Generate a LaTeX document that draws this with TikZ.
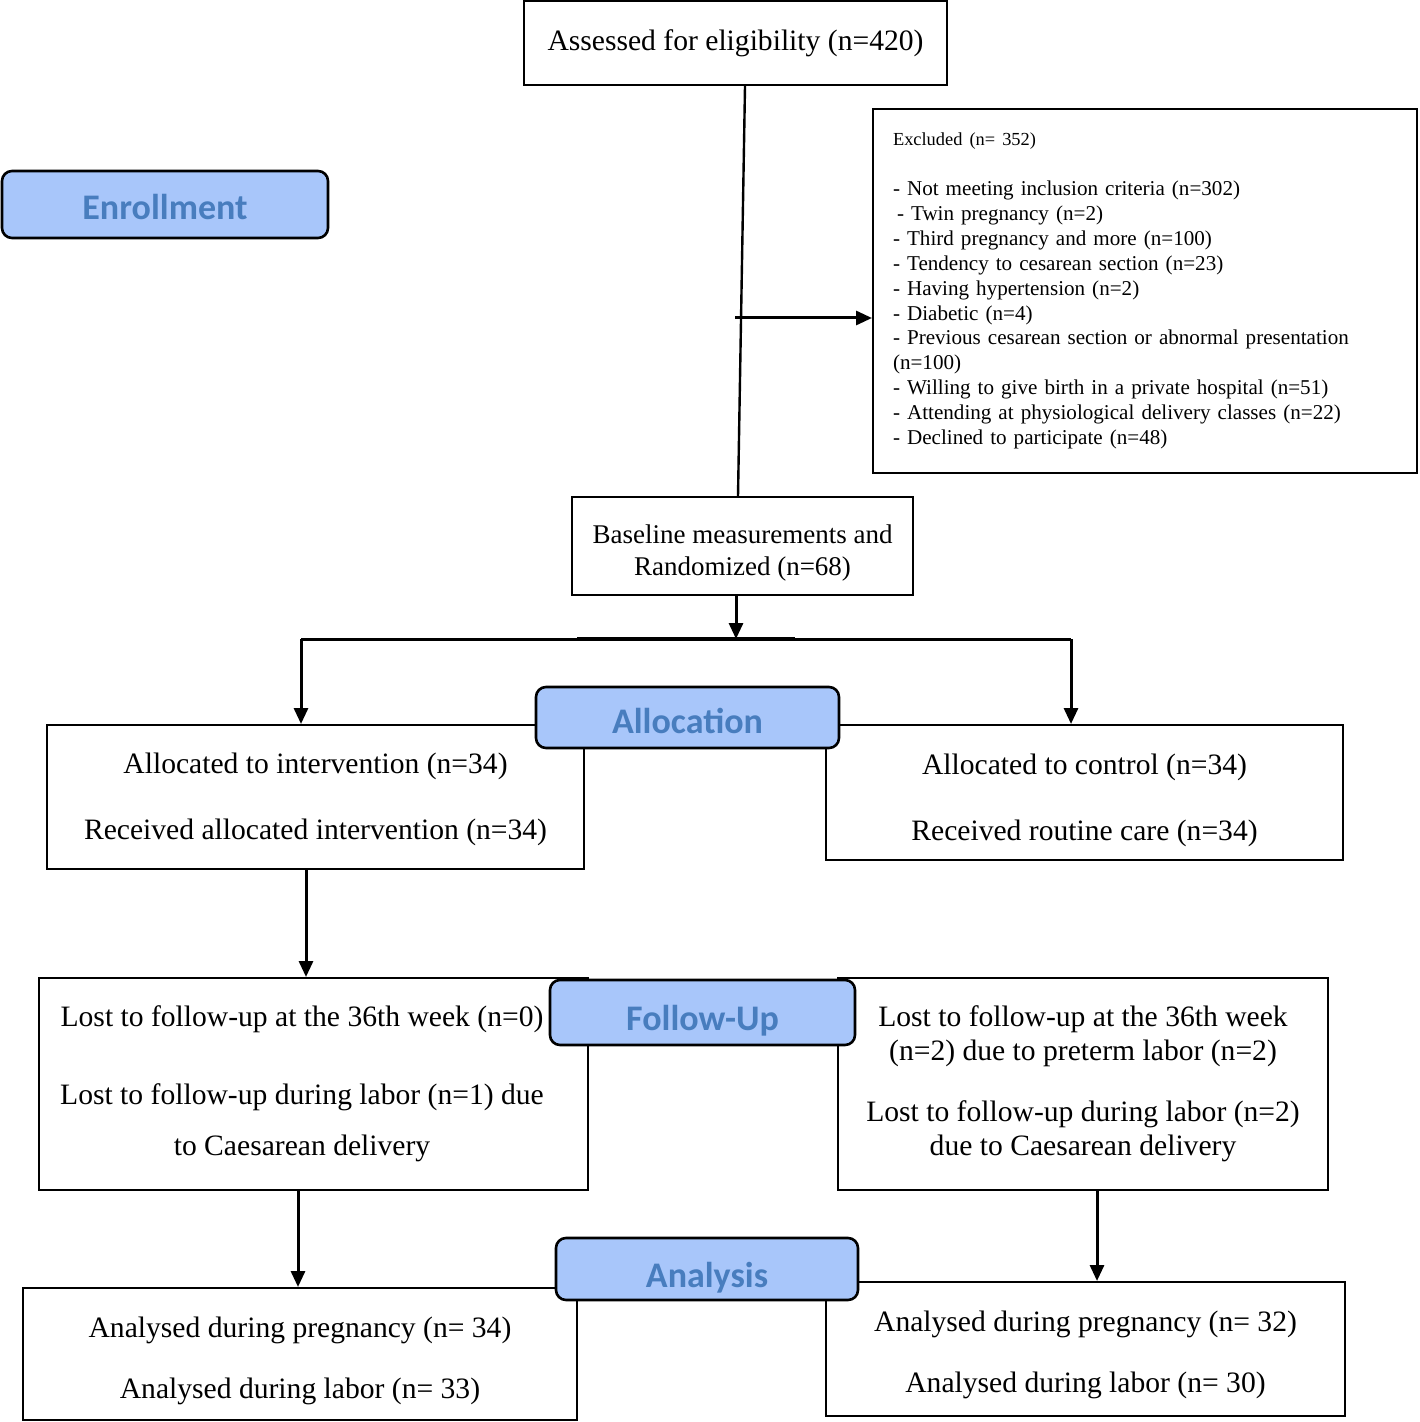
\documentclass[tikz,border=0pt]{standalone}
\usepackage{fontspec}
\setmainfont{Liberation Serif}
\newfontfamily\phasefont{Carlito}
\usetikzlibrary{arrows.meta}
\definecolor{phasefill}{RGB}{168,198,250}
\definecolor{phasetext}{RGB}{72,125,190}
\newcommand{\topgap}[1]{\rule{0pt}{#1}}
\tikzset{
  box/.style={draw,line width=1pt,inner sep=0pt,align=center,
    font=\fontsize{14.8}{17}\selectfont},
  phase/.style={draw,line width=1.3pt,rounded corners=5pt,fill=phasefill,
    text=phasetext,inner sep=0pt,text depth=0pt,
    font=\phasefont\bfseries\fontsize{18}{20}\selectfont},
  flow/.style={line width=1.5pt,-{Triangle[length=8pt,width=7pt]}},
}
\begin{document}
\begin{tikzpicture}[x=0.5pt,y=-0.5pt]
    \useasboundingbox (0,0) rectangle (1419,1422);
    % enrollment
    \node[box,minimum width=211.5pt,minimum height=42pt] (assess) at (735.5,43) {Assessed for eligibility (n=420)};
    \node[box,minimum width=272pt,minimum height=182pt,text width=252pt,align=left,
      font=\fontsize{10.55}{12.45}\selectfont] (excl) at (1145,291)
      {{\fontsize{9.2}{12.45}\selectfont Excluded (n= 352)}\\[12.45pt]
       - Not meeting inclusion criteria (n=302)\\
       \hspace*{2pt}- Twin pregnancy (n=2)\\
       - Third pregnancy and more (n=100)\\
       - Tendency to cesarean section (n=23)\\
       - Having hypertension (n=2)\\
       - Diabetic (n=4)\\
       - Previous cesarean section or abnormal presentation\\
       (n=100)\\
       - Willing to give birth in a private hospital (n=51)\\
       - Attending at physiological delivery classes (n=22)\\
       - Declined to participate (n=48)};
    \node[box,minimum width=170.5pt,minimum height=49pt,font=\fontsize{13.5}{16}\selectfont] (base) at (742.5,546)
      {\topgap{15.9pt}Baseline measurements and\\Randomized (n=68)};
    % allocation
    \node[box,minimum width=268.5pt,minimum height=72pt] (allocL) at (315.5,797)
      {\topgap{12.8pt}Allocated to intervention (n=34)\\[16pt]Received allocated intervention (n=34)};
    \node[box,minimum width=258.5pt,minimum height=67.5pt] (allocR) at (1084.5,792.5)
      {\topgap{17.8pt}Allocated to control (n=34)\\[16pt]Received routine care (n=34)};
    % follow-up
    \node[box,minimum width=274.5pt,minimum height=106pt] (followL) at (313.5,1084)
      {\begin{tabular}{@{}c@{}}Lost to follow-up at the 36th week (n=0)\\[22pt]Lost to follow-up during labor (n=1) due\\[8.5pt]to Caesarean delivery\end{tabular}\hspace*{11.5pt}};
    \node[box,minimum width=245pt,minimum height=106pt] (followR) at (1083,1084)
      {Lost to follow-up at the 36th week\\(n=2) due to preterm labor (n=2)\\[13.5pt]Lost to follow-up during labor (n=2)\\due to Caesarean delivery};
    % analysis
    \node[box,minimum width=277pt,minimum height=66pt] (anaL) at (300,1354)
      {\topgap{16.8pt}Analysed during pregnancy (n= 34)\\[13.5pt]Analysed during labor (n= 33)};
    \node[box,minimum width=259.5pt,minimum height=67pt] (anaR) at (1085.5,1349)
      {\topgap{15.8pt}Analysed during pregnancy (n= 32)\\[13.5pt]Analysed during labor (n= 30)};
    % phase labels
    \node[phase,minimum width=163pt,minimum height=33.5pt,text height=14.6pt] (enrol) at (165,204.5) {Enrollment};
    \node[phase,minimum width=151.5pt,minimum height=30.5pt,text height=15.6pt] (alloc) at (687.5,717.5) {Allocation};
    \node[phase,minimum width=152.5pt,minimum height=32.5pt,text height=17.6pt] (follow) at (702.5,1012.5) {Follow-Up};
    \node[phase,minimum width=151pt,minimum height=31pt,text height=18.4pt] (ana) at (707,1269) {Analysis};
    % connectors
    \draw[line width=1.2pt] ([xshift=4.75pt]assess.south) -- ([xshift=-2.25pt]base.north);
    \coordinate (branch) at (735,318);
    \draw[flow] (branch) -- (branch -| excl.west);
    \coordinate (split) at (736,639);
    \coordinate (splitL) at (301,639);
    \coordinate (splitR) at (1071,639);
    \draw[flow] (base.south -| split) -- (split);
    \draw[line width=1.5pt] (splitL) -- (splitR);
    \draw[line width=2.2pt] (577,639) -- (795,639);
    \draw[flow] (splitL) -- (splitL |- allocL.north);
    \draw[flow] (splitR) -- (splitR |- allocR.north);
    \draw[flow] ([xshift=-4.75pt]allocL.south) coordinate (p) -- (p |- followL.north);
    \draw[flow] ([xshift=-7.75pt]followL.south) coordinate (q) -- (q |- anaL.north);
    \draw[flow] ([xshift=7pt]followR.south) coordinate (r) -- (r |- anaR.north);
\end{tikzpicture}
\end{document}
